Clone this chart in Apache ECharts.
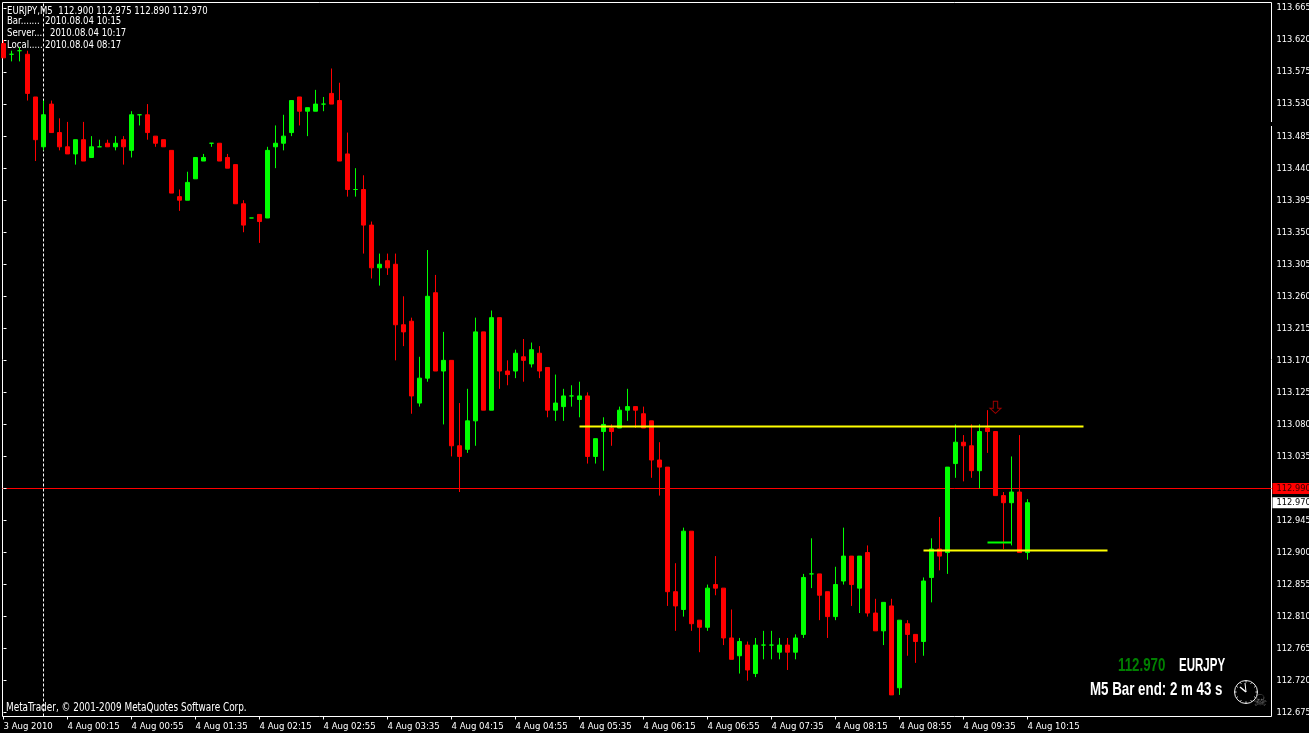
<!DOCTYPE html>
<html>
<head>
<meta charset="utf-8">
<title>EURJPY M5</title>
<style>
  html, body { margin: 0; padding: 0; background: #000; }
  #chart { width: 1309px; height: 733px; }
</style>
<script src="https://cdn.jsdelivr.net/npm/echarts@6/dist/echarts.min.js"></script>
</head>
<body>
<div id="chart"></div>
<script>
const opens = [
  113.615, 113.600, 113.605, 113.600, 113.540, 113.470, 113.530, 113.490, 113.470, 113.460,
  113.480, 113.455, 113.470, 113.475, 113.470, 113.480, 113.465, 113.515, 113.515, 113.485,
  113.480, 113.465, 113.400, 113.395, 113.425, 113.450, 113.475, 113.475, 113.455, 113.445,
  113.390, 113.370, 113.375, 113.370, 113.470, 113.475, 113.490, 113.540, 113.520, 113.520,
  113.530, 113.545, 113.535, 113.460, 113.410, 113.410, 113.360, 113.300, 113.310, 113.305,
  113.220, 113.225, 113.110, 113.145, 113.265, 113.155, 113.170, 113.050, 113.045, 113.085,
  113.210, 113.100, 113.230, 113.155, 113.155, 113.175, 113.165, 113.180, 113.160, 113.100,
  113.105, 113.120, 113.115, 113.120, 113.035, 113.070, 113.075, 113.075, 113.100, 113.105,
  113.095, 113.085, 113.030, 113.020, 112.845, 112.820, 112.930, 112.805, 112.795, 112.855,
  112.850, 112.780, 112.755, 112.770, 112.730, 112.770, 112.770, 112.760, 112.770, 112.760,
  112.785, 112.870, 112.870, 112.845, 112.810, 112.860, 112.895, 112.850, 112.900, 112.815,
  112.790, 112.825, 112.710, 112.800, 112.785, 112.775, 112.865, 112.905, 112.900, 113.025,
  113.055, 113.050, 113.015, 113.075, 113.070, 112.980, 112.970, 112.985, 112.900
];
const closes = [
  113.595, 113.600, 113.605, 113.545, 113.480, 113.515, 113.490, 113.470, 113.460, 113.480,
  113.450, 113.470, 113.470, 113.470, 113.475, 113.470, 113.515, 113.515, 113.490, 113.475,
  113.470, 113.405, 113.395, 113.420, 113.455, 113.455, 113.475, 113.450, 113.440, 113.390,
  113.360, 113.370, 113.365, 113.465, 113.475, 113.485, 113.535, 113.520, 113.525, 113.530,
  113.530, 113.530, 113.450, 113.410, 113.410, 113.360, 113.300, 113.305, 113.300, 113.220,
  113.210, 113.120, 113.145, 113.260, 113.155, 113.170, 113.050, 113.035, 113.085, 113.210,
  113.100, 113.230, 113.155, 113.150, 113.180, 113.170, 113.185, 113.155, 113.100, 113.110,
  113.120, 113.120, 113.120, 113.035, 113.060, 113.080, 113.070, 113.100, 113.105, 113.100,
  113.075, 113.030, 113.020, 112.845, 112.825, 112.930, 112.800, 112.795, 112.850, 112.850,
  112.780, 112.750, 112.775, 112.735, 112.770, 112.770, 112.770, 112.770, 112.760, 112.780,
  112.865, 112.870, 112.840, 112.810, 112.855, 112.895, 112.855, 112.895, 112.815, 112.790,
  112.830, 112.700, 112.805, 112.785, 112.775, 112.860, 112.905, 112.895, 113.020, 113.055,
  113.050, 113.015, 113.070, 113.070, 112.980, 112.970, 112.985, 112.900, 112.970
];
const lows = [
  113.595, 113.590, 113.590, 113.535, 113.450, 113.465, 113.490, 113.465, 113.460, 113.445,
  113.450, 113.455, 113.470, 113.470, 113.465, 113.445, 113.455, 113.500, 113.480, 113.470,
  113.470, 113.405, 113.380, 113.395, 113.425, 113.450, 113.470, 113.450, 113.440, 113.390,
  113.350, 113.370, 113.335, 113.370, 113.440, 113.465, 113.485, 113.500, 113.485, 113.520,
  113.520, 113.530, 113.450, 113.400, 113.400, 113.320, 113.285, 113.275, 113.290, 113.170,
  113.190, 113.095, 113.105, 113.140, 113.155, 113.080, 113.035, 112.985, 113.040, 113.050,
  113.100, 113.100, 113.130, 113.135, 113.145, 113.140, 113.160, 113.145, 113.090, 113.085,
  113.085, 113.105, 113.090, 113.025, 113.025, 113.015, 113.050, 113.075, 113.085, 113.075,
  113.075, 113.005, 112.980, 112.825, 112.790, 112.810, 112.790, 112.760, 112.790, 112.840,
  112.770, 112.750, 112.730, 112.720, 112.725, 112.750, 112.750, 112.750, 112.735, 112.750,
  112.780, 112.850, 112.805, 112.780, 112.805, 112.855, 112.825, 112.815, 112.810, 112.790,
  112.770, 112.700, 112.700, 112.755, 112.745, 112.755, 112.830, 112.875, 112.870, 113.005,
  113.000, 113.005, 112.990, 113.040, 112.980, 112.905, 112.910, 112.900, 112.890
];
const highs = [
  113.620, 113.605, 113.610, 113.605, 113.540, 113.535, 113.535, 113.510, 113.505, 113.480,
  113.505, 113.485, 113.480, 113.480, 113.485, 113.485, 113.520, 113.515, 113.530, 113.485,
  113.480, 113.465, 113.410, 113.435, 113.455, 113.460, 113.475, 113.475, 113.460, 113.445,
  113.395, 113.370, 113.375, 113.470, 113.500, 113.515, 113.535, 113.540, 113.525, 113.550,
  113.540, 113.580, 113.560, 113.490, 113.440, 113.430, 113.365, 113.320, 113.320, 113.320,
  113.260, 113.230, 113.175, 113.325, 113.290, 113.210, 113.170, 113.110, 113.130, 113.230,
  113.210, 113.240, 113.230, 113.170, 113.185, 113.200, 113.195, 113.190, 113.160, 113.150,
  113.130, 113.135, 113.140, 113.125, 113.060, 113.090, 113.080, 113.105, 113.130, 113.105,
  113.105, 113.085, 113.055, 113.020, 112.885, 112.935, 112.930, 112.805, 112.855, 112.895,
  112.850, 112.820, 112.780, 112.775, 112.780, 112.790, 112.790, 112.780, 112.780, 112.785,
  112.870, 112.920, 112.870, 112.845, 112.880, 112.935, 112.895, 112.895, 112.910, 112.835,
  112.830, 112.835, 112.805, 112.805, 112.785, 112.865, 112.920, 112.950, 113.020, 113.080,
  113.065, 113.080, 113.080, 113.100, 113.070, 112.985, 113.035, 113.065, 112.975
];

const priceTicks = [
  112.675, 112.72, 112.765, 112.81, 112.855, 112.9, 112.945, 112.99, 113.035, 113.08, 113.125, 113.17,
  113.215, 113.26, 113.305, 113.35, 113.395, 113.44, 113.485, 113.53, 113.575, 113.62, 113.665
];
const timeTicks = [0, 8, 16, 24, 32, 40, 48, 56, 64, 72, 80, 88, 96, 104, 112, 120, 128];
const timeLabels = [
  "3 Aug 2010", "4 Aug 00:15", "4 Aug 00:55", "4 Aug 01:35", "4 Aug 02:15", "4 Aug 02:55",
  "4 Aug 03:35", "4 Aug 04:15", "4 Aug 04:55", "4 Aug 05:35", "4 Aug 06:15", "4 Aug 06:55",
  "4 Aug 07:35", "4 Aug 08:15", "4 Aug 08:55", "4 Aug 09:35", "4 Aug 10:15"
];

const resistance = { from: 72, to: 135, price: 113.077 };
const support = { from: 115, to: 138, price: 112.903 };
const greenSegment = { from: 123, to: 126, price: 112.914 };
const separatorBar = 5;
const signalBar = 124;
const signalPrice = 113.104;
const askPrice = 112.99;
const bidPrice = 112.97;

// axis ends so that one bar is 8px and 0.005 is 3.56px
const X_MIN = -0.125;
const X_MAX = 158.5;
const Y_MIN = 112.66966;
const Y_MAX = 113.67273;

const UI_FONT = "'DejaVu Sans Condensed', 'Liberation Sans', sans-serif";
const BOLD_FONT = "bold 18px 'Liberation Sans', sans-serif";
const TEXT_COLOR = "#fff";

const flatLine = (from, to, price) => [[from, price], [to, price]];

const levelSeries = (name, seg, color, width) => ({
  name,
  type: "line",
  data: flatLine(seg.from, seg.to, seg.price),
  showSymbol: false,
  silent: true,
  z: 5,
  lineStyle: { color, width }
});

const infoText = (text, x, y, size = 9.5) => ({
  type: "text",
  x,
  y,
  scaleY: 1.15,
  silent: true,
  style: { text, fill: TEXT_COLOR, font: `${size}px ${UI_FONT}`, textVerticalAlign: "middle" }
});

const boldText = (text, x, y, scaleX, fill) => ({
  type: "text",
  x,
  y,
  scaleX,
  silent: true,
  style: { text, fill, font: BOLD_FONT, textVerticalAlign: "middle" }
});

const priceTag = (price, color, background) => ({
  show: true,
  formatter: () => price.toFixed(3),
  color,
  backgroundColor: background,
  fontFamily: UI_FONT,
  fontSize: 9.2,
  width: 36,
  height: 11,
  lineHeight: 11,
  padding: [0, 0, 0, 4],
  distance: 1
});

const clockMarks = () => {
  const items = [{
    type: "circle",
    shape: { cx: 1246, cy: 692, r: 11.5 },
    style: { fill: "none", stroke: "#f0f0f0", lineWidth: 1 },
    silent: true
  }];
  for (let h = 0; h < 12; h++) {
    const a = (h / 12) * Math.PI * 2;
    items.push({
      type: "line",
      silent: true,
      shape: {
        x1: 1246 + Math.cos(a) * 9.5,
        y1: 692 + Math.sin(a) * 9.5,
        x2: 1246 + Math.cos(a) * 11,
        y2: 692 + Math.sin(a) * 11
      },
      style: { stroke: "#f0f0f0", lineWidth: 1 }
    });
  }
  items.push(
    { type: "line", silent: true, shape: { x1: 1246, y1: 692, x2: 1240, y2: 687 }, style: { stroke: "#fff", lineWidth: 1.5 } },
    { type: "line", silent: true, shape: { x1: 1246, y1: 692, x2: 1245, y2: 683 }, style: { stroke: "#fff", lineWidth: 1 } }
  );
  return items;
};

const chart = echarts.init(document.getElementById("chart"), null, { renderer: "canvas" });

chart.setOption({
  animation: false,
  backgroundColor: "#000",
  grid: {
    show: true,
    outerBoundsMode: "none",
    left: 2.5,
    top: 2.5,
    width: 1269,
    height: 714,
    borderColor: "#fff",
    borderWidth: 1,
    backgroundColor: "#000"
  },
  xAxis: {
    type: "value",
    min: X_MIN,
    max: X_MAX,
    splitLine: { show: false },
    axisLine: { show: false },
    axisTick: { show: true, customValues: timeTicks, length: 3, lineStyle: { color: "#fff" } },
    axisLabel: {
      customValues: timeTicks,
      color: TEXT_COLOR,
      fontFamily: UI_FONT,
      fontSize: 9.5,
      align: "left",
      margin: 5,
      formatter: (v) => timeLabels[timeTicks.indexOf(v)] || ""
    }
  },
  yAxis: [
    {
      type: "value",
      position: "right",
      min: Y_MIN,
      max: Y_MAX,
      splitLine: { show: false },
      axisLine: { show: false },
      axisTick: { show: true, customValues: priceTicks, length: 3, lineStyle: { color: "#fff" } },
      axisLabel: {
        customValues: priceTicks,
        color: TEXT_COLOR,
        fontFamily: UI_FONT,
        fontSize: 9.2,
        margin: 5,
        formatter: (v) => v.toFixed(3)
      }
    },
    {
      // only carries the ask price line
      type: "value",
      position: "right",
      min: Y_MIN,
      max: Y_MAX,
      axisLine: { show: false },
      axisLabel: { show: false },
      axisTick: { show: false, customValues: [askPrice] },
      splitLine: { show: true, lineStyle: { color: "#ff0000", width: 1 } }
    }
  ],
  series: [
    {
      name: "separator",
      type: "line",
      data: [[separatorBar, Y_MIN], [separatorBar, Y_MAX]],
      showSymbol: false,
      silent: true,
      z: 1,
      lineStyle: { color: "#fff", width: 1, type: [3, 2] }
    },
    {
      name: "ask",
      type: "line",
      data: flatLine(X_MAX - 1, X_MAX, askPrice),
      showSymbol: false,
      silent: true,
      z: 1,
      lineStyle: { opacity: 0 },
      endLabel: priceTag(askPrice, "#300", "#ff0000")
    },
    {
      name: "bid",
      type: "line",
      data: flatLine(X_MAX - 1, X_MAX, bidPrice),
      showSymbol: false,
      silent: true,
      z: 1,
      lineStyle: { opacity: 0 },
      endLabel: priceTag(bidPrice, "#000", "#fff")
    },
    {
      name: "EURJPY,M5",
      type: "candlestick",
      barWidth: 4,
      z: 3,
      silent: true,
      itemStyle: {
        color: "#00ff00",
        color0: "#ff0000",
        borderColor: "#00ff00",
        borderColor0: "#ff0000",
        borderColorDoji: "#00ff00",
        borderWidth: 1
      },
      data: opens.map((o, i) => [i, o, closes[i], lows[i], highs[i]])
    },
    levelSeries("resistance", resistance, "#ffff00", 2),
    levelSeries("support", support, "#ffff00", 2),
    levelSeries("segment", greenSegment, "#00ff00", 2),
    {
      name: "signal",
      type: "scatter",
      silent: true,
      z: 6,
      symbol: "path://M3,0 L7,0 L7,7 L10,7 L5,12 L0,7 L3,7 Z",
      symbolSize: [11, 12],
      itemStyle: { color: "rgba(0,0,0,0)", borderColor: "#c80000", borderWidth: 1 },
      data: [[signalBar, signalPrice]]
    }
  ],
  graphic: [
    infoText("EURJPY,M5  112.900 112.975 112.890 112.970", 7, 11),
    infoText("Bar.......", 7, 21),
    infoText("2010.08.04 10:15", 45, 21),
    infoText("Server....", 7, 33),
    infoText("2010.08.04 10:17", 50, 33),
    infoText("Local.....", 7, 45),
    infoText("2010.08.04 08:17", 45, 45),
    infoText("MetaTrader, © 2001-2009 MetaQuotes Software Corp.", 6, 708, 9.9),
    boldText("112.970", 1118, 666, 0.74, "#008000"),
    boldText("EURJPY", 1179, 666, 0.64, "#fff"),
    boldText("M5 Bar end: 2 m 43 s", 1090, 690, 0.74, "#fff"),
    {
      type: "text",
      x: 1253,
      y: 702,
      silent: true,
      style: { text: "☠", fill: "#666", font: "16px 'DejaVu Sans'", textVerticalAlign: "middle" }
    },
    // small break in the price scale line of the original screenshot
    { type: "rect", silent: true, shape: { x: 1270, y: 122, width: 3, height: 4 }, style: { fill: "#000" } },
    ...clockMarks()
  ]
});
</script>
</body>
</html>
